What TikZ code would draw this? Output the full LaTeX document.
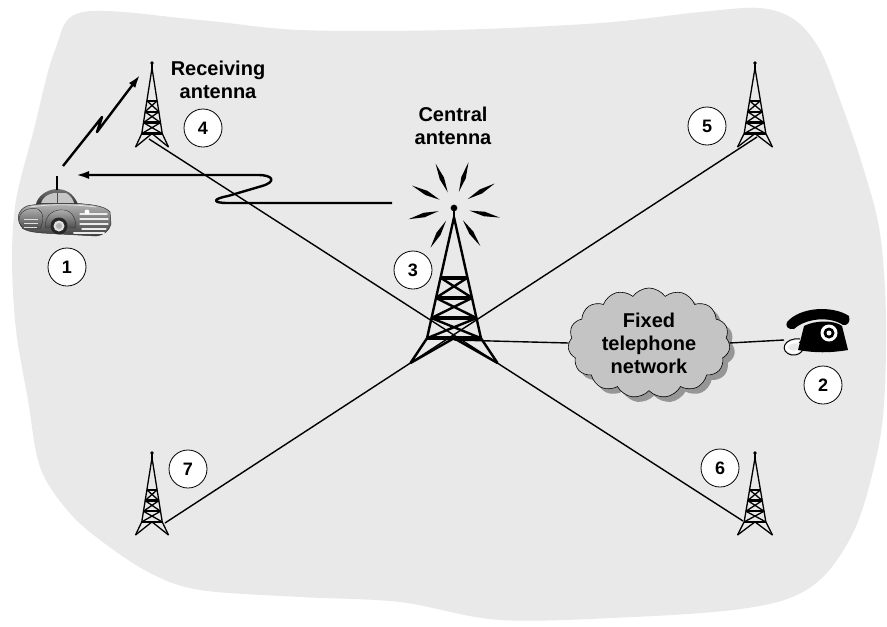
\documentclass[tikz,border=0pt]{standalone}
\usepackage{fontspec}
\setmainfont{Liberation Sans}
\usetikzlibrary{arrows.meta,shapes.symbols,shadows}
\definecolor{blob}{RGB}{233,233,233}
\definecolor{cloudfill}{RGB}{196,196,196}
\definecolor{cloudshade}{RGB}{150,150,150}
\tikzset{
  num/.style={circle, draw, line width=0.8pt, fill=white, minimum size=38pt, inner sep=0pt,
    font=\fontsize{18}{18}\selectfont\bfseries},
  lbl/.style={align=center, font=\fontsize{20}{23}\selectfont\bfseries},
  link/.style={line width=1.4pt},
  sig/.style={line width=2.4pt, line join=round, -{Latex[length=13pt,width=8pt]}},
  chrome/.style={gray!15, line width=1.1pt, line cap=round},
}
\begin{document}
\begin{tikzpicture}[x=1pt,y=-1pt]
  \useasboundingbox (0,0) rectangle (887,627);
  % a lattice mast: tip x, tip y, half width, height, leg width
  \def\mast#1#2#3#4#5{%
    \begin{scope}[shift={(#1,#2)}, x=#3pt, y=-#4pt, line width=#5pt, line join=round]
      \fill (0,0) circle[radius=#5*1.4pt];
      \draw (0,0) -- (0,0.08);
      \draw (-1,1) -- (-0.62,0.84) -- (0,0.06) -- (0.62,0.84) -- (1,1);
      \foreach \y/\w in {0.45/0.31,0.58/0.42,0.71/0.52,0.84/0.62}
        \draw[line width=#5*1.8pt] (-\w,\y) -- (\w,\y);
      \foreach \ya/\wa/\yb/\wb in {0.45/0.31/0.58/0.42,0.58/0.42/0.71/0.52,0.71/0.52/0.84/0.62}
        \draw (-\wa,\ya) -- (\wb,\yb) (\wa,\ya) -- (-\wb,\yb);
      \draw (-1,1) -- (0,0.84) -- (1,1);
    \end{scope}}

  % coverage area
  \fill[blob] plot[smooth cycle, tension=0.55] coordinates {
    (83,12) (200,20) (300,30) (450,30) (600,23) (700,12) (760,8) (795,20) (820,50)
    (840,100) (863,167) (880,233) (886,320) (883,417) (870,483) (853,533) (825,575)
    (790,598) (733,610) (633,617) (500,620) (400,602) (300,597) (200,590) (150,573)
    (100,540) (67,510) (40,467) (28,400) (16,330) (12,260) (16,200) (33,133) (55,50)};

  % mast feet and cable ends
  \coordinate (m4) at (149,139);
  \coordinate (m5) at (757,137);
  \coordinate (m6) at (743,521);
  \coordinate (m7) at (165,523);
  \coordinate (m3) at (454,340);
  \coordinate (tel) at (784,340);

  \draw[link] (m4) -- (m6);
  \draw[link] (m5) -- (m7);

  % fixed network
  \node[cloud, cloud puffs=15, cloud puff arc=110, aspect=1.45, draw, line width=0.6pt,
    fill=cloudfill, minimum width=162pt, minimum height=110pt, inner sep=0pt,
    general shadow={fill=cloudshade, shadow xshift=5pt, shadow yshift=-5pt}]
    (net) at (649,343) {};
  \draw[link] (m3) -- (net.west);
  \draw[link] (net.east) -- (tel);
  \node[lbl] at (net.center) {Fixed\\telephone\\network};

  % masts
  \mast{152}{63}{16.5}{84}{1.3}
  \mast{755}{63}{17.5}{84}{1.3}
  \mast{755}{453}{17.5}{82}{1.3}
  \mast{152}{453}{16.5}{82}{1.3}
  \mast{454}{208}{43.5}{155}{2.4}

  % central antenna radiating
  \foreach \a in {30,72,113,153,195,240,304,347}
    \fill[shift={(454,207)}, rotate=\a] (16,0) -- (31,2.3) -- (47,0) -- (31,-2.3) -- cycle;

  % telephone
  \begin{scope}[line join=round]
    \draw[line width=3pt, white] (800,342) .. controls (786,340) and (782,350) .. (792,352)
      .. controls (800,353) and (804,346) .. (799,344);
    \draw[line width=1pt] (800,339) .. controls (784,337) and (778,352) .. (792,355)
      .. controls (803,356) and (807,345) .. (799,342);
    \fill (798,350) -- (804,326) .. controls (815,320) and (835,320) .. (842,326)
      -- (848,350) .. controls (830,353) and (815,353) .. (798,350) -- cycle;
    \fill (787,322) .. controls (800,307) and (832,305) .. (849,316)
      .. controls (851,322) and (847,326) .. (843,325)
      .. controls (830,316) and (806,318) .. (794,329)
      .. controls (788,330) and (785,326) .. (787,322) -- cycle;
    \fill[white] (829,333) circle[radius=8.5];
    \fill (829,333) circle[radius=5.5];
    \fill[white] (829,333) circle[radius=2.5];
  \end{scope}

  % car: body, roof, fenders, wheel, grille
  \shade[top color=gray!55, bottom color=black!75, draw=black!80, line width=0.5pt]
    (21,226) .. controls (16,218) and (18,210) .. (27,206)
    .. controls (40,203) and (70,202) .. (84,204)
    .. controls (96,205) and (106,207) .. (110,212)
    -- (111,224) .. controls (109,231) and (104,235) .. (96,236)
    -- (42,233) .. controls (32,232) and (24,231) .. (21,226) -- cycle;
  \shade[top color=black!55, bottom color=black!80]
    (36,204) .. controls (38,196) and (46,190) .. (56,189)
    .. controls (66,189) and (73,193) .. (78,204) -- cycle;
  \fill[gray!45] (41,203) .. controls (43,197) and (48,194) .. (54,193) -- (66,193)
    .. controls (70,195) and (73,199) .. (74,203) -- cycle;
  \draw[black!70, line width=0.8pt] (57,193) -- (57,203);
  \shade[top color=gray!60, bottom color=black!70, draw=black!80, line width=0.4pt]
    (19,222) .. controls (18,211) and (28,207) .. (38,209)
    .. controls (44,212) and (44,222) .. (40,229) -- (23,229) -- cycle;
  \draw[gray!25, line width=0.9pt] (24,219) -- (38,219) (24,223) -- (38,223) (24,227) -- (37,227);
  \shade[top color=gray!60, bottom color=black!70, draw=black!80, line width=0.4pt]
    (45,228) .. controls (45,214) and (54,209) .. (64,210)
    .. controls (72,211) and (76,218) .. (76,228) -- cycle;
  \fill[black!85] (59,226) circle[radius=8.5];
  \fill[gray!25] (59,226) circle[radius=5.5];
  \fill[gray!60] (59,226) circle[radius=3];
  \draw[chrome] (80,214) -- (107,214) (80,219) -- (108,219) (80,224) -- (108,224)
    (82,229) -- (106,229);
  \draw[chrome, line width=2pt] (74,233) -- (104,233);
  \fill[white] (87,212) circle[radius=2.5];
  \draw[gray!20, line width=0.8pt] (30,207) .. controls (50,204) and (72,204) .. (96,207);

  % car aerial and radio links
  \coordinate (aerial) at (57,176);
  \coordinate (up) at (63,166);
  \coordinate (rx4) at (140,75);
  \coordinate (tx3) at (392,203);
  \coordinate (rx1) at (76,175);
  \draw[line width=2.6pt] (57,190) -- (aerial);
  \draw[sig] (up) -- (102,117) -- (97,132) -- (rx4);
  \draw[sig] (tx3) -- (228,203) .. controls (212,203) and (212,199) .. (228,196)
    -- (262,186) .. controls (276,182) and (274,175) .. (258,175) -- (rx1);

  % labels
  \node[lbl] (txt4) at (218,80) {Receiving\\antenna};
  \node[lbl] (txt3) at (453,126) {Central\\antenna};
  \node[num] (n1) at (67,267) {1};
  \node[num] (n2) at (823,385) {2};
  \node[num] (n3) at (413,270) {3};
  \node[num] (n4) at (203,128) {4};
  \node[num] (n5) at (707,126) {5};
  \node[num] (n6) at (720,468) {6};
  \node[num] (n7) at (188,469) {7};
\end{tikzpicture}
\end{document}
